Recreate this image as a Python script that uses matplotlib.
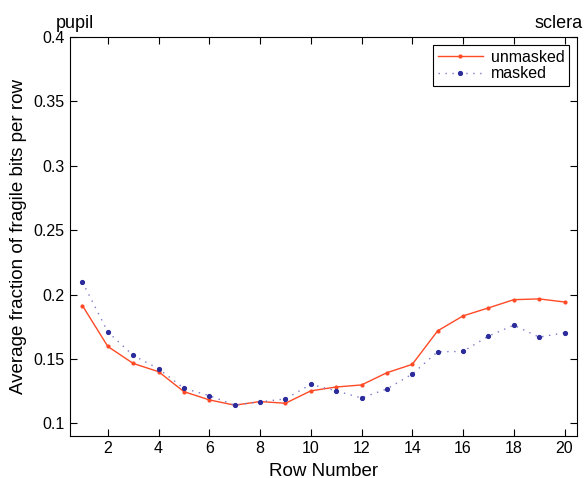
import matplotlib
matplotlib.use('Agg')
import matplotlib.pyplot as plt

plt.rcParams['font.family'] = ['Liberation Sans', 'DejaVu Sans']

rows = list(range(1, 21))
unmasked = [0.1915, 0.1598, 0.1466, 0.1402, 0.1247, 0.1183, 0.1142, 0.1170, 0.1157, 0.1253,
            0.1283, 0.1299, 0.1394, 0.1459, 0.1719, 0.1835, 0.1897, 0.1961, 0.1967, 0.1943]
masked = [0.2098, 0.1711, 0.1528, 0.1425, 0.1273, 0.1216, 0.1142, 0.1168, 0.1190, 0.1304,
          0.1253, 0.1198, 0.1268, 0.1384, 0.1557, 0.1559, 0.1678, 0.1763, 0.1670, 0.1704]
yticks = [0.1, 0.15, 0.2, 0.25, 0.3, 0.35, 0.4]
ytick_labels = ['0.1', '0.15', '0.2', '0.25', '0.3', '0.35', '0.4']
xticks = list(range(2, 21, 2))

fig = plt.figure(figsize=(5.86, 4.78), dpi=100)
ax = fig.add_axes([0.119, 0.0885, 0.866, 0.834])

ax.plot(rows, unmasked, '-', color='#ff4a26', lw=1.0, marker='.', ms=4, label='unmasked')
ax.plot(rows, masked, color='#7a7ac8', lw=1.0, ls=(0, (1, 4)), marker='.', ms=5.5,
        mfc='#2b2b9c', mec='#2b2b9c', label='masked')

ax.set_xlim(0.5, 20.5)
ax.set_ylim(0.0905, 0.4)
ax.set_xticks(xticks)
ax.set_yticks(yticks)
ax.set_yticklabels(ytick_labels)
ax.tick_params(direction='in', top=True, right=True, labelsize=11.5, length=5, width=0.8)
for s in ax.spines.values():
    s.set_linewidth(0.8)

ax.set_xlabel('Row Number', fontsize=13.5, labelpad=5)
ax.set_ylabel('Average fraction of fragile bits per row', fontsize=13.5, labelpad=5)

ax.text(-0.027, 1.012, 'pupil', transform=ax.transAxes, fontsize=13, ha='left', va='bottom')
ax.text(1.01, 1.012, 'sclera', transform=ax.transAxes, fontsize=13, ha='right', va='bottom')

leg = ax.legend(loc='upper right', fontsize=11.5, fancybox=False, edgecolor='black',
                framealpha=1, borderaxespad=0.5, handlelength=2.8, labelspacing=0.1,
                borderpad=0.3, handletextpad=0.5)
leg.get_frame().set_linewidth(0.8)

fig.savefig('out.png', dpi=100)
